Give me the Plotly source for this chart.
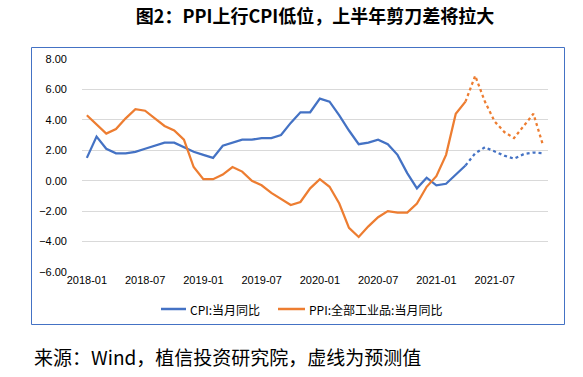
import plotly.graph_objects as go

months = [f"{y}-{m:02d}" for y in (2018, 2019, 2020, 2021) for m in range(1, 13)]
tick_labels = ["2018-01", "2018-07", "2019-01", "2019-07", "2020-01", "2020-07", "2021-01", "2021-07"]

cpi_actual = [1.5, 2.9, 2.1, 1.8, 1.8, 1.9, 2.1, 2.3, 2.5, 2.5, 2.2, 1.9,
              1.7, 1.5, 2.3, 2.5, 2.7, 2.7, 2.8, 2.8, 3.0, 3.8, 4.5, 4.5,
              5.4, 5.2, 4.3, 3.3, 2.4, 2.5, 2.7, 2.4, 1.7, 0.5, -0.5, 0.2,
              -0.3, -0.2, 0.4, 1.0]
cpi_forecast = [1.0, 1.8, 2.2, 1.9, 1.65, 1.45, 1.75, 1.85, 1.8]

ppi_actual = [4.3, 3.7, 3.1, 3.4, 4.1, 4.7, 4.6, 4.1, 3.6, 3.3, 2.7, 0.9,
              0.1, 0.1, 0.4, 0.9, 0.6, 0.0, -0.3, -0.8, -1.2, -1.6, -1.4, -0.5,
              0.1, -0.4, -1.5, -3.1, -3.7, -3.0, -2.4, -2.0, -2.1, -2.1, -1.5, -0.4,
              0.3, 1.7, 4.4, 5.2]
ppi_forecast = [5.2, 6.9, 5.2, 3.9, 3.2, 2.8, 3.6, 4.4, 2.3]

series_names = ["CPI:当月同比", "PPI:全部工业品:当月同比"]

BLUE = "#4472C4"
ORANGE = "#ED7D31"

n_act = len(cpi_actual)
x_act = months[:n_act]
x_fc = months[n_act - 1:n_act - 1 + len(cpi_forecast)]

fig = go.Figure()
fig.add_trace(go.Scatter(x=x_act, y=cpi_actual, mode="lines", name=series_names[0],
                         line=dict(color=BLUE, width=2.25), showlegend=False))
fig.add_trace(go.Scatter(x=x_act, y=ppi_actual, mode="lines", name=series_names[1],
                         line=dict(color=ORANGE, width=2.25), showlegend=False))
fig.add_trace(go.Scatter(x=x_fc, y=cpi_forecast, mode="lines", showlegend=False,
                         line=dict(color=BLUE, width=2.25, dash="dot")))
fig.add_trace(go.Scatter(x=x_fc, y=ppi_forecast, mode="lines", showlegend=False,
                         line=dict(color=ORANGE, width=2.25, dash="dot")))

L, R, T, B = 82, 548, 59, 272
W, H = 583, 377
pw, ph = R - L, B - T

def px(x):
    return (x - L) / pw

def py(y):
    return (B - y) / ph

fig.update_layout(
    width=W, height=H,
    margin=dict(l=L, r=W - R, t=T, b=H - B, autoexpand=False),
    paper_bgcolor="white", plot_bgcolor="white",
    font=dict(family="Liberation Sans, Noto Sans CJK SC", color="#000000", size=11),
    title=dict(text="<b>图2：PPI上行CPI低位，上半年剪刀差将拉大</b>",
               x=315 / W, xanchor="center", y=1 - 17 / H, yanchor="middle",
               font=dict(family="Noto Sans CJK SC", size=18, color="#000000")),
    xaxis=dict(type="category", categoryorder="array", categoryarray=months,
               range=[-0.5, len(months) - 0.5], automargin=False,
               tickmode="array", tickvals=tick_labels, ticktext=tick_labels,
               showgrid=False, showline=False, zeroline=False, ticks="",
               tickfont=dict(family="Liberation Sans", size=11), tickangle=0),
    yaxis=dict(range=[-6, 8], dtick=2, tick0=-6, tickformat=".2f", automargin=False,
               showgrid=True, gridcolor="#D9D9D9", gridwidth=1,
               zeroline=False, showline=False, ticks="",
               ticklabelstandoff=14,
               tickfont=dict(family="Liberation Sans", size=11)),
    showlegend=False,
)

# chart frame as four line segments
fx0, fx1, fy0, fy1 = px(31.5), px(564.5), py(324.5), py(47.5)
for (a, b, c, d) in [(fx0, fx1, fy1, fy1), (fx0, fx1, fy0, fy0),
                     (fx0, fx0, fy0, fy1), (fx1, fx1, fy0, fy1)]:
    fig.add_shape(type="line", xref="paper", yref="paper",
                  x0=a, x1=b, y0=c, y1=d,
                  line=dict(color=BLUE, width=1))

# manual legend
legend_items = [(series_names[0], BLUE, 161, 186), (series_names[1], ORANGE, 278, 305)]
for name, col, x0, x1 in legend_items:
    fig.add_shape(type="line", xref="paper", yref="paper",
                  x0=px(x0), x1=px(x1), y0=py(309), y1=py(309),
                  line=dict(color=col, width=2.5))
    fig.add_annotation(text=name, xref="paper", yref="paper", x=px(x1 + 2), y=py(309),
                       xanchor="left", yanchor="middle", showarrow=False,
                       font=dict(family="Noto Sans CJK SC", size=12, color="#000000"))

fig.add_annotation(text="来源：Wind，植信投资研究院，虚线为预测值",
                   xref="paper", yref="paper", x=px(32), y=py(356),
                   xanchor="left", yanchor="middle", showarrow=False,
                   font=dict(family="Noto Sans CJK SC", size=19, color="#000000"))

fig.write_html("out.html", config={"displayModeBar": False},
               post_script="document.body.style.margin='0';")
